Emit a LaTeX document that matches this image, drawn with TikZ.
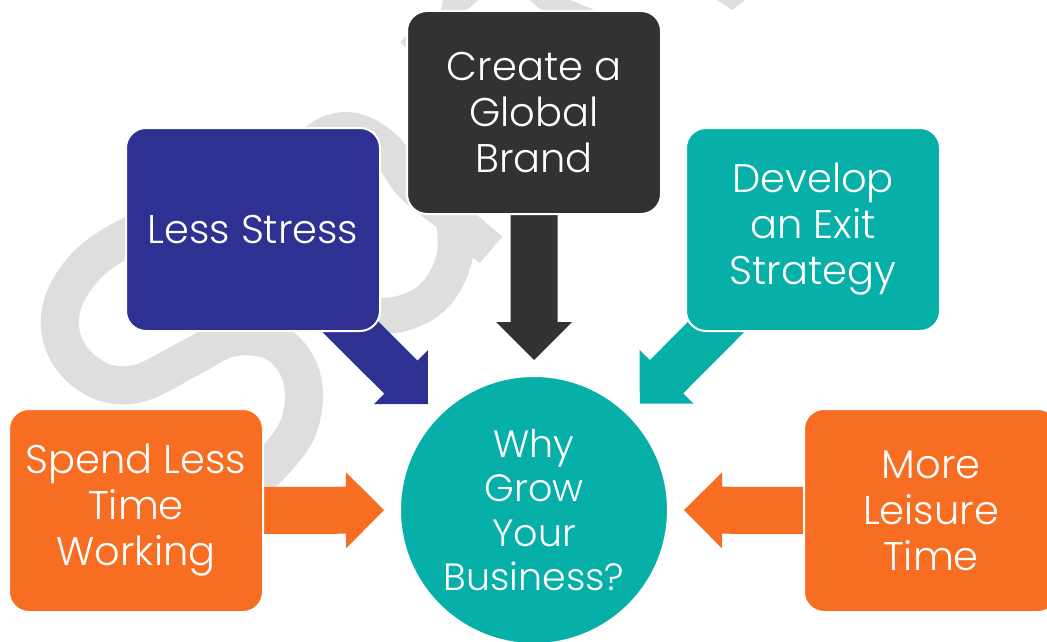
\documentclass[tikz,border=0pt]{standalone}
\usepackage{fontspec}
\setmainfont{Poppins Light}
\usetikzlibrary{calc}

\definecolor{navy}{HTML}{2E3192}
\definecolor{ink}{HTML}{323232}
\definecolor{teal}{HTML}{06AFA8}
\definecolor{tangerine}{HTML}{F76D22}
\definecolor{wmgrey}{HTML}{DEDEDE}

\pgfdeclarelayer{watermark}
\pgfdeclarelayer{arrows}
\pgfsetlayers{watermark,arrows,main}

% block arrow from the centre of one node towards another,
% stopping 150pt short of the target's centre
\newcommand{\blockarrow}[3]{%
  \fill[#1] let \p1=(#2.center), \p2=($(#3.center)!150pt!(#2.center)$),
    \n1={atan2(\y2-\y1,\x2-\x1)}, \n2={veclen(\x2-\x1,\y2-\y1)} in
    [shift={(\p1)}, rotate=\n1]
    (0,-23.5) -- ({\n2-38},-23.5) -- ({\n2-38},-38) -- (\n2,0)
    -- ({\n2-38},38) -- ({\n2-38},23.5) -- (0,23.5) -- cycle;}

\begin{document}
\begin{tikzpicture}[x=1pt,y=-1pt,
  card/.style={rectangle, rounded corners=20pt, minimum width=254pt,
    minimum height=203pt, draw=white, line width=2pt, text=white,
    align=center, inner sep=0pt, font=\fontsize{40}{46}\selectfont},
  hubstyle/.style={circle, minimum size=268pt, draw=white, line width=2pt,
    fill=teal, text=white, align=center, inner sep=0pt,
    font=\fontsize{38}{44.5}\selectfont},
  wm/.style={draw=wmgrey, line cap=butt}]
\useasboundingbox (0,0) rectangle (1047,642);

% boxes and hub
\node[card, fill=ink] (brand) at (534,112.5) {Create a\\Global\\Brand};
\node[card, fill=navy] (stress) at (253,229.5) {Less Stress};
\node[card, fill=teal] (exit) at (813,229.5) {Develop\\an Exit\\Strategy};
\node[card, fill=tangerine] (spend) at (136,510.5) {Spend Less\\Time\\Working};
\node[card, fill=tangerine] (leisure) at (931,510.5) {More\\Leisure\\Time};
\node[hubstyle] (hub) at (534,510) {Why\\Grow\\Your\\Business?};

% arrows into the hub
\begin{pgfonlayer}{arrows}
  \blockarrow{ink}{brand}{hub}
  \blockarrow{navy}{stress}{hub}
  \blockarrow{teal}{exit}{hub}
  \blockarrow{tangerine}{spend}{hub}
  \blockarrow{tangerine}{leisure}{hub}
\end{pgfonlayer}

% white page and faint logo ribbon behind everything
\begin{pgfonlayer}{watermark}
  \fill[white] (0,0) rectangle (1047,642);
  \draw[wm, line width=38pt] plot[smooth, tension=0.6] coordinates
    {(160,225) (126,238) (90,262) (66,295) (60,328) (73,360) (103,382)
     (140,383) (190,358) (230,338) (270,340) (295,362) (304,393) (298,428)
     (280,455) (250,485)};
  \draw[wm, line width=35pt] plot[smooth, tension=0.6] coordinates
    {(295,170) (320,138) (352,130) (385,148) (412,185) (450,215)}
    -- (491,250);
  \draw[wm, line width=36pt] plot[smooth, tension=0.6] coordinates
    {(360,315) (400,314) (435,295) (455,255) (452,205)};
  \fill[wmgrey] (443,0) -- (478,0) -- (466,11) -- (441,11) -- cycle;
  \fill[wmgrey] (530,0) -- (570,0) -- (597,11) -- (542,11) -- cycle;
  \fill[wmgrey] (717,0) -- (745,0) -- (732,10) -- cycle;
  \fill[wmgrey] (400,42) -- (408,34) -- (408,50) -- cycle;
\end{pgfonlayer}
\end{tikzpicture}
\end{document}
